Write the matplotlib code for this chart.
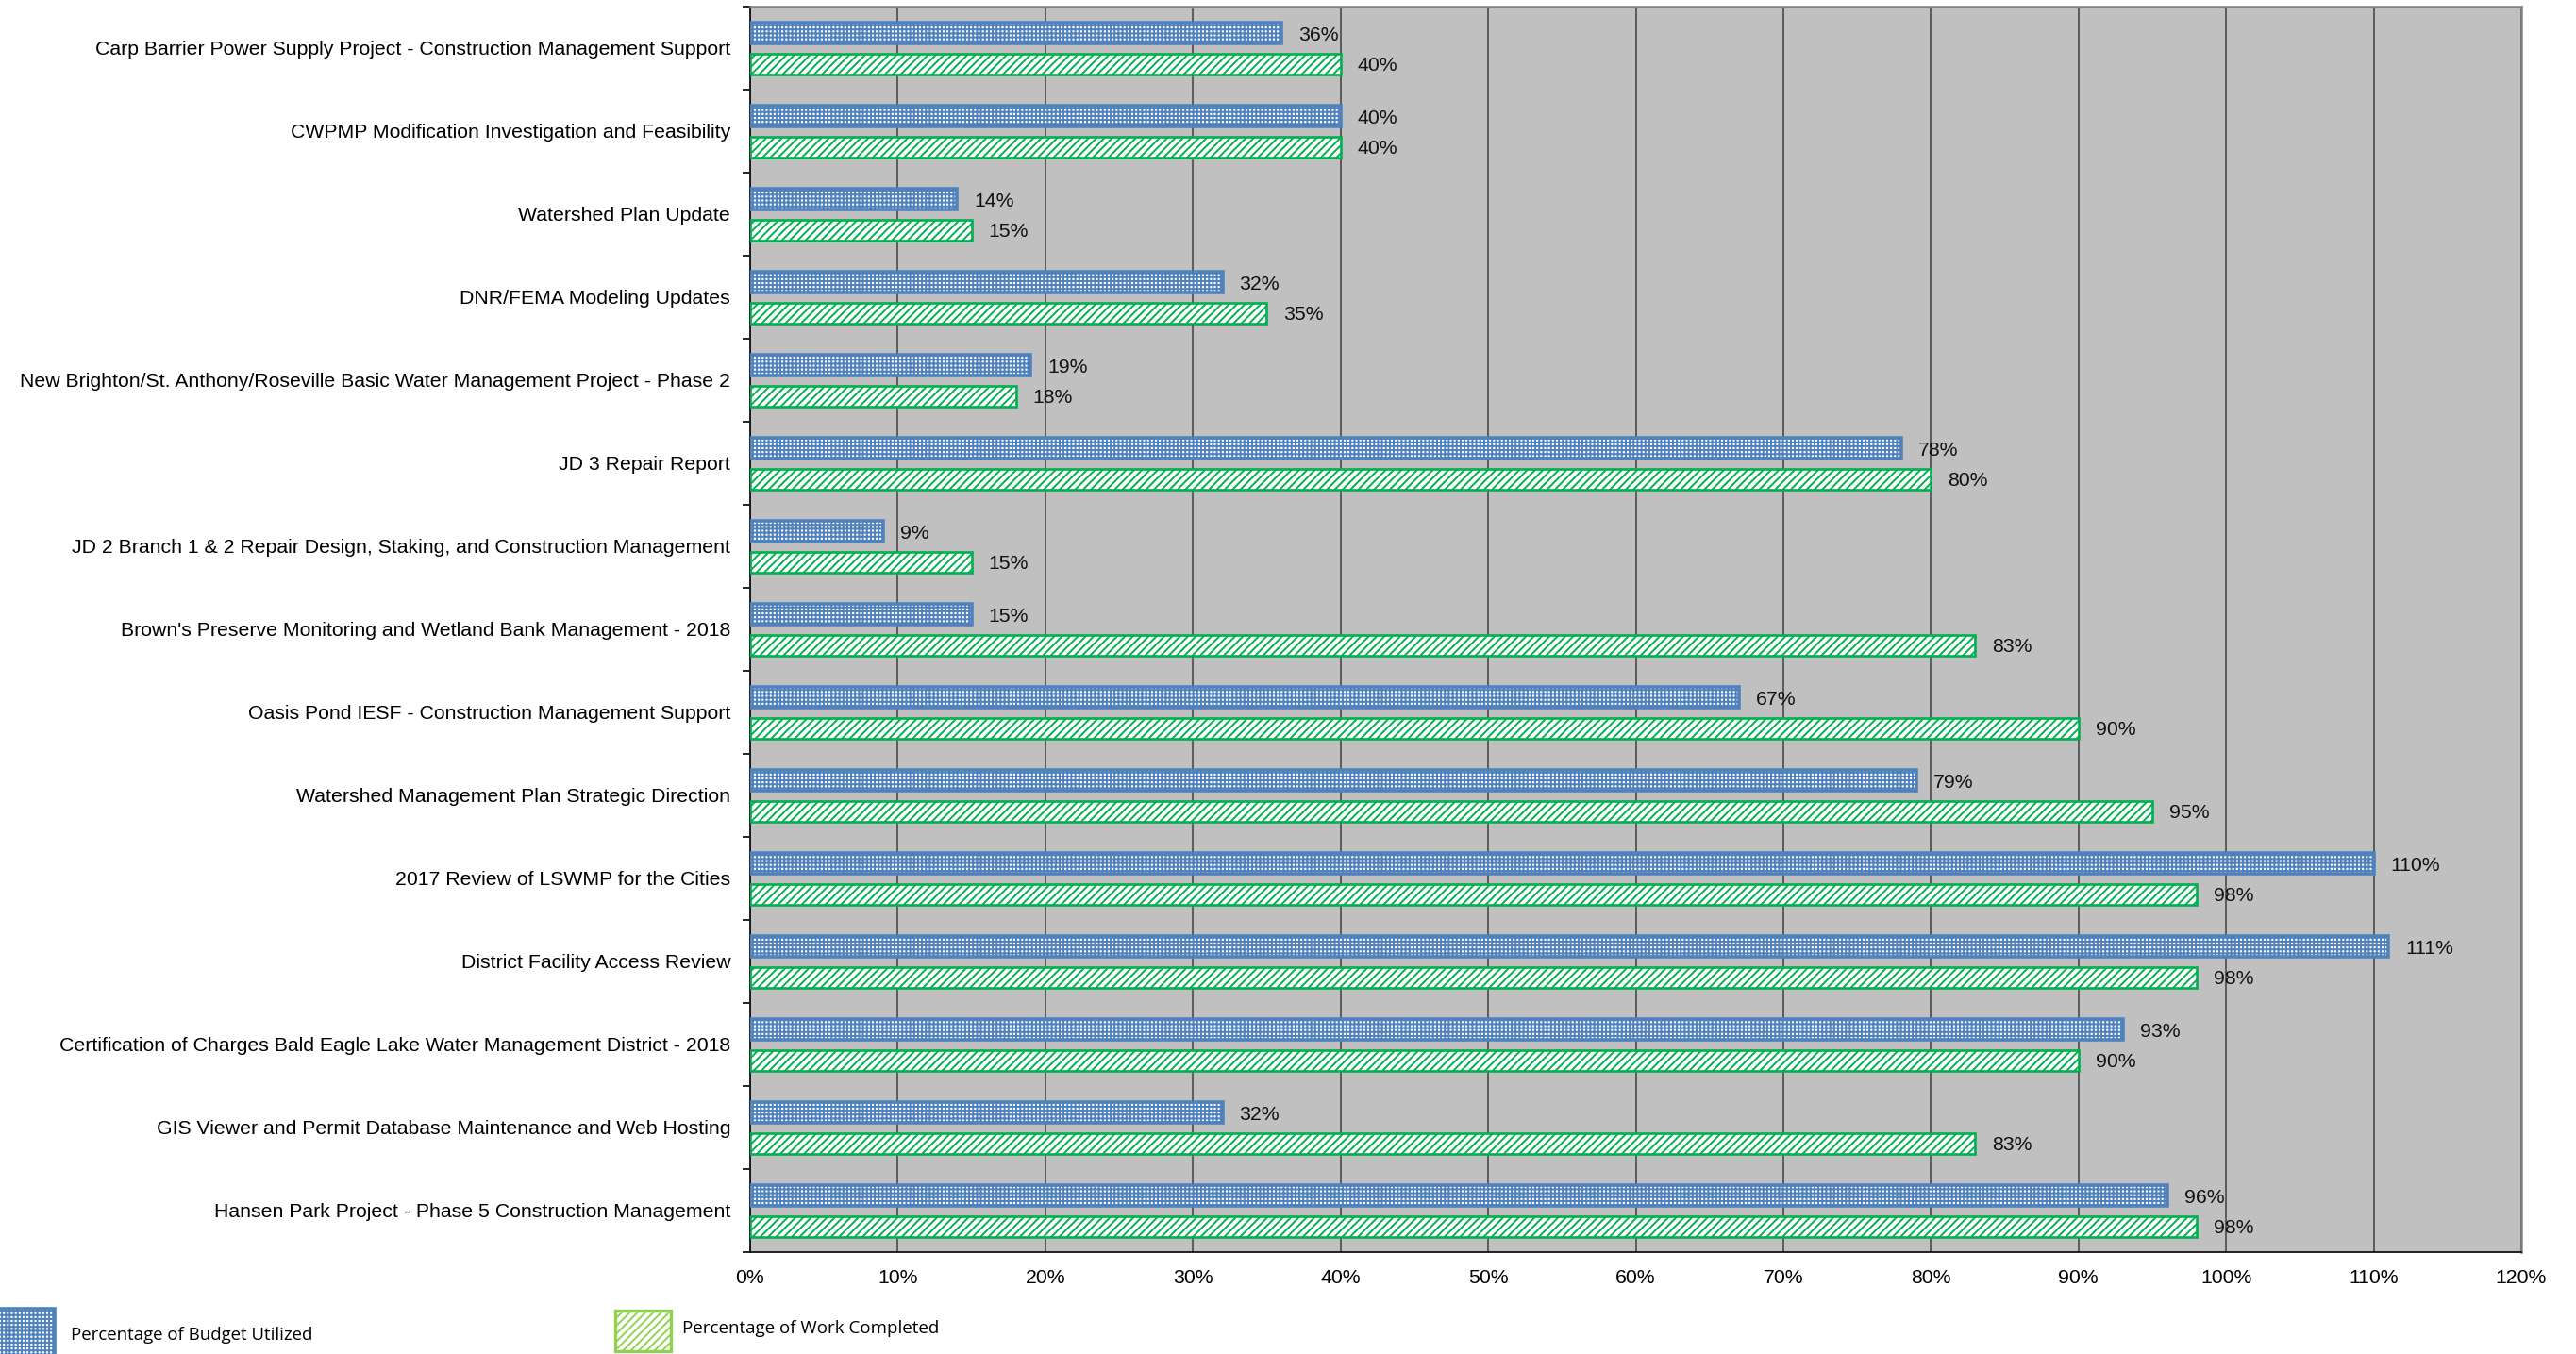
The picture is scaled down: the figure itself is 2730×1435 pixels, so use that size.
import numpy as np
import matplotlib
matplotlib.use("Agg")
import matplotlib.pyplot as plt
from matplotlib.patches import Rectangle
from matplotlib.ticker import FixedLocator, PercentFormatter

projects = [
    "Carp Barrier Power Supply Project - Construction Management Support",
    "CWPMP Modification Investigation and Feasibility",
    "Watershed Plan Update",
    "DNR/FEMA Modeling Updates",
    "New Brighton/St. Anthony/Roseville Basic Water Management Project - Phase 2",
    "JD 3 Repair Report",
    "JD 2 Branch 1 & 2 Repair Design, Staking, and Construction Management",
    "Brown's Preserve Monitoring and Wetland Bank Management - 2018",
    "Oasis Pond IESF - Construction Management Support",
    "Watershed Management Plan Strategic Direction",
    "2017 Review of LSWMP for the Cities",
    "District Facility Access Review",
    "Certification of Charges Bald Eagle Lake Water Management District - 2018",
    "GIS Viewer and Permit Database Maintenance and Web Hosting",
    "Hansen Park Project - Phase 5 Construction Management",
]
budget_pct = [36, 40, 14, 32, 19, 78, 9, 15, 67, 79, 110, 111, 93, 32, 96]
work_pct = [40, 40, 15, 35, 18, 80, 15, 83, 90, 95, 98, 98, 90, 83, 98]
x_ticks = [0, 10, 20, 30, 40, 50, 60, 70, 80, 90, 100, 110, 120]

BLUE = "#4F81BD"
GREEN = "#00B050"
LIGHT_GREEN = "#92D050"
PLOT_BG = "#C0C0C0"

plt.rcParams["font.family"] = ["Liberation Sans", "DejaVu Sans"]
plt.rcParams["hatch.linewidth"] = 1.4

W, H = 2730, 1435
fig = plt.figure(figsize=(W / 100, H / 100), dpi=100)
ax = fig.add_axes([795 / W, 1 - 1327 / H, (2672 - 795) / W, (1327 - 7) / H])
ax.set_facecolor(PLOT_BG)

y = np.arange(len(projects))
bar_h = 0.25
fs = 15.3

ax.barh(y - 0.18, budget_pct, height=bar_h, color="white", edgecolor=BLUE,
        hatch="++++", linewidth=2.6, zorder=3)
ax.barh(y + 0.19, work_pct, height=bar_h, color="white", edgecolor=GREEN,
        hatch="////", linewidth=1.9, zorder=3)

# value labels just past the end of each bar
for yi, v in zip(y, budget_pct):
    ax.annotate(f"{v}%", (v, yi - 0.18), xytext=(13, -1.5), textcoords="offset points",
                va="center", ha="left", fontsize=fs, color="#111111")
for yi, v in zip(y, work_pct):
    ax.annotate(f"{v}%", (v, yi + 0.19), xytext=(13, -1.5), textcoords="offset points",
                va="center", ha="left", fontsize=fs, color="#111111")

ax.set_xlim(0, 120)
ax.set_ylim(len(projects) - 0.5, -0.5)
ax.set_xticks(x_ticks)
ax.xaxis.set_major_formatter(PercentFormatter(decimals=0))
ax.tick_params(axis="x", length=0, pad=13, labelsize=fs)

ax.set_yticks(y)
ax.set_yticklabels(projects, fontsize=fs)
ax.tick_params(axis="y", which="major", length=0, pad=15)
ax.yaxis.set_minor_locator(FixedLocator(np.arange(len(projects) + 1) - 0.5))
ax.tick_params(axis="y", which="minor", length=6, width=1.2, direction="out")

ax.grid(axis="x", color="#404040", linewidth=1.1, zorder=1)
ax.set_axisbelow(True)

for side in ("top", "right"):
    ax.spines[side].set_color("#808080")
    ax.spines[side].set_linewidth(1.8)
for side in ("left", "bottom"):
    ax.spines[side].set_color("#111111")
    ax.spines[side].set_linewidth(1.3)

# legend drawn below the plot
fig.add_artist(Rectangle((-2 / W, 1 - 1437 / H), 60 / W, 50 / H,
                         transform=fig.transFigure, facecolor="white",
                         edgecolor=BLUE, hatch="++++", linewidth=2.6))
fig.text(75 / W, 1 - 1415 / H, "Percentage of Budget Utilized",
         fontsize=13.4, family=["Open Sans", "DejaVu Sans"], va="center", ha="left")
fig.add_artist(Rectangle((652 / W, 1 - 1432 / H), 59 / W, 43 / H,
                         transform=fig.transFigure, facecolor="white",
                         edgecolor=LIGHT_GREEN, hatch="////", linewidth=2.4))
fig.text(723 / W, 1 - 1408 / H, "Percentage of Work Completed",
         fontsize=13.5, family=["Open Sans", "DejaVu Sans"], va="center", ha="left")

fig.savefig("out.png", dpi=100)
